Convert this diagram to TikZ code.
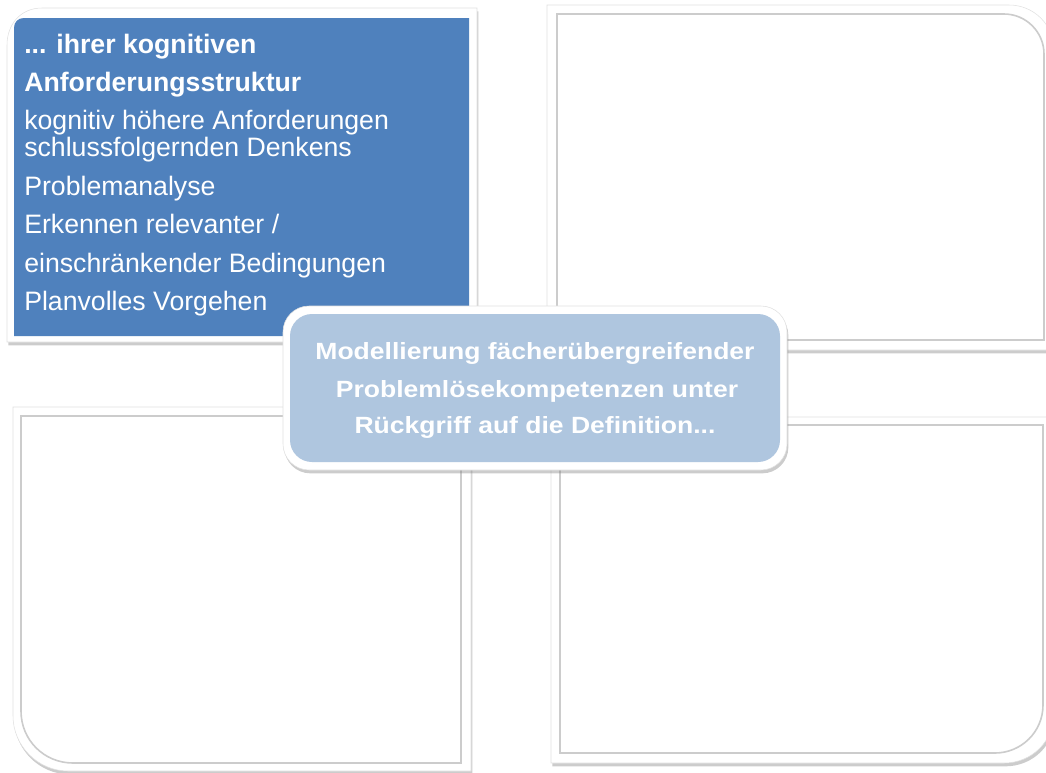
\documentclass[tikz,border=0pt]{standalone}
\usepackage{fontspec}
\setmainfont{Liberation Sans}
\newfontfamily\widefont{Liberation Sans}[FakeStretch=1.13]
\usetikzlibrary{shadows}

\definecolor{tlblue}{RGB}{79,129,189}
\definecolor{midblue}{RGB}{175,198,223}

\begin{document}
\begin{tikzpicture}[x=0.75pt,y=-0.75pt,
  frame/.style={fill=white,draw=black!12,line width=0.4pt,
    drop shadow={shadow xshift=1pt,shadow yshift=-2.5pt,opacity=0.4}},
  inset/.style={fill=white,draw=black!20,line width=1.2pt},
  item/.style={anchor=base west,inner sep=0pt,text=white,font=\fontsize{20}{24}\selectfont},
  itembold/.style={item,font=\bfseries\fontsize{20}{24}\selectfont},
  title/.style={anchor=base,inner sep=0pt,text=white,font=\widefont\bfseries\fontsize{17.6}{21}\selectfont}]
\useasboundingbox (0,0) rectangle (1046,772);

% upper left
\path[frame] (7,342) -- (7,45) .. controls (7,25) and (20,8) .. (42,8) -- (477,8) -- (477,342) -- cycle;
\fill[tlblue] (14,336) -- (14,28) .. controls (14,22) and (18,18) .. (24,18) -- (469,18) -- (469,336) -- cycle;

% upper right
\path[frame] (547,350) -- (547,5) -- (1009,5) .. controls (1034,5) and (1054,25) .. (1054,50) -- (1054,350) -- cycle;
\path[inset] (557,340) -- (557,14) -- (1004,14) .. controls (1026,14) and (1044,32) .. (1044,54) -- (1044,340) -- cycle;

% lower left
\path[frame] (13,407) -- (471,407) -- (471,771) -- (68,771) .. controls (38,771) and (13,746) .. (13,716) -- cycle;
\path[inset] (21,416) -- (461,416) -- (461,763) -- (73,763) .. controls (44,763) and (21,740) .. (21,711) -- cycle;

% lower right
\path[frame] (551,417) -- (1054,417) -- (1054,713) .. controls (1054,741) and (1032,763) .. (1004,763) -- (551,763) -- cycle;
\path[inset] (560,425) -- (1043,425) -- (1043,705) .. controls (1043,732) and (1021,753) .. (995,753) -- (560,753) -- cycle;

\node[itembold] (kog1) at (24,53) {... ihrer kognitiven};
\node[itembold] (kog2) at (24,91) {Anforderungsstruktur};
\node[item] (kog3) at (24,129) {kognitiv höhere Anforderungen};
\node[item] (kog4) at (24,156) {schlussfolgernden Denkens};
\node[item] (kog5) at (24,195) {Problemanalyse};
\node[item] (kog6) at (24,233) {Erkennen relevanter /};
\node[item] (kog7) at (24,272) {einschränkender Bedingungen};
\node[item] (kog8) at (24,310) {Planvolles Vorgehen};

% centre
\path[frame,rounded corners=19.5pt] (283,306) rectangle (787,470);
\fill[midblue,rounded corners=16.5pt] (290,314) rectangle (780,462);
\node[title] (def1) at (535,359) {Modellierung fächerübergreifender};
\node[title] (def2) at (537,397) {Problemlösekompetenzen unter};
\node[title] (def3) at (535,433) {Rückgriff auf die Definition...};
\end{tikzpicture}
\end{document}
